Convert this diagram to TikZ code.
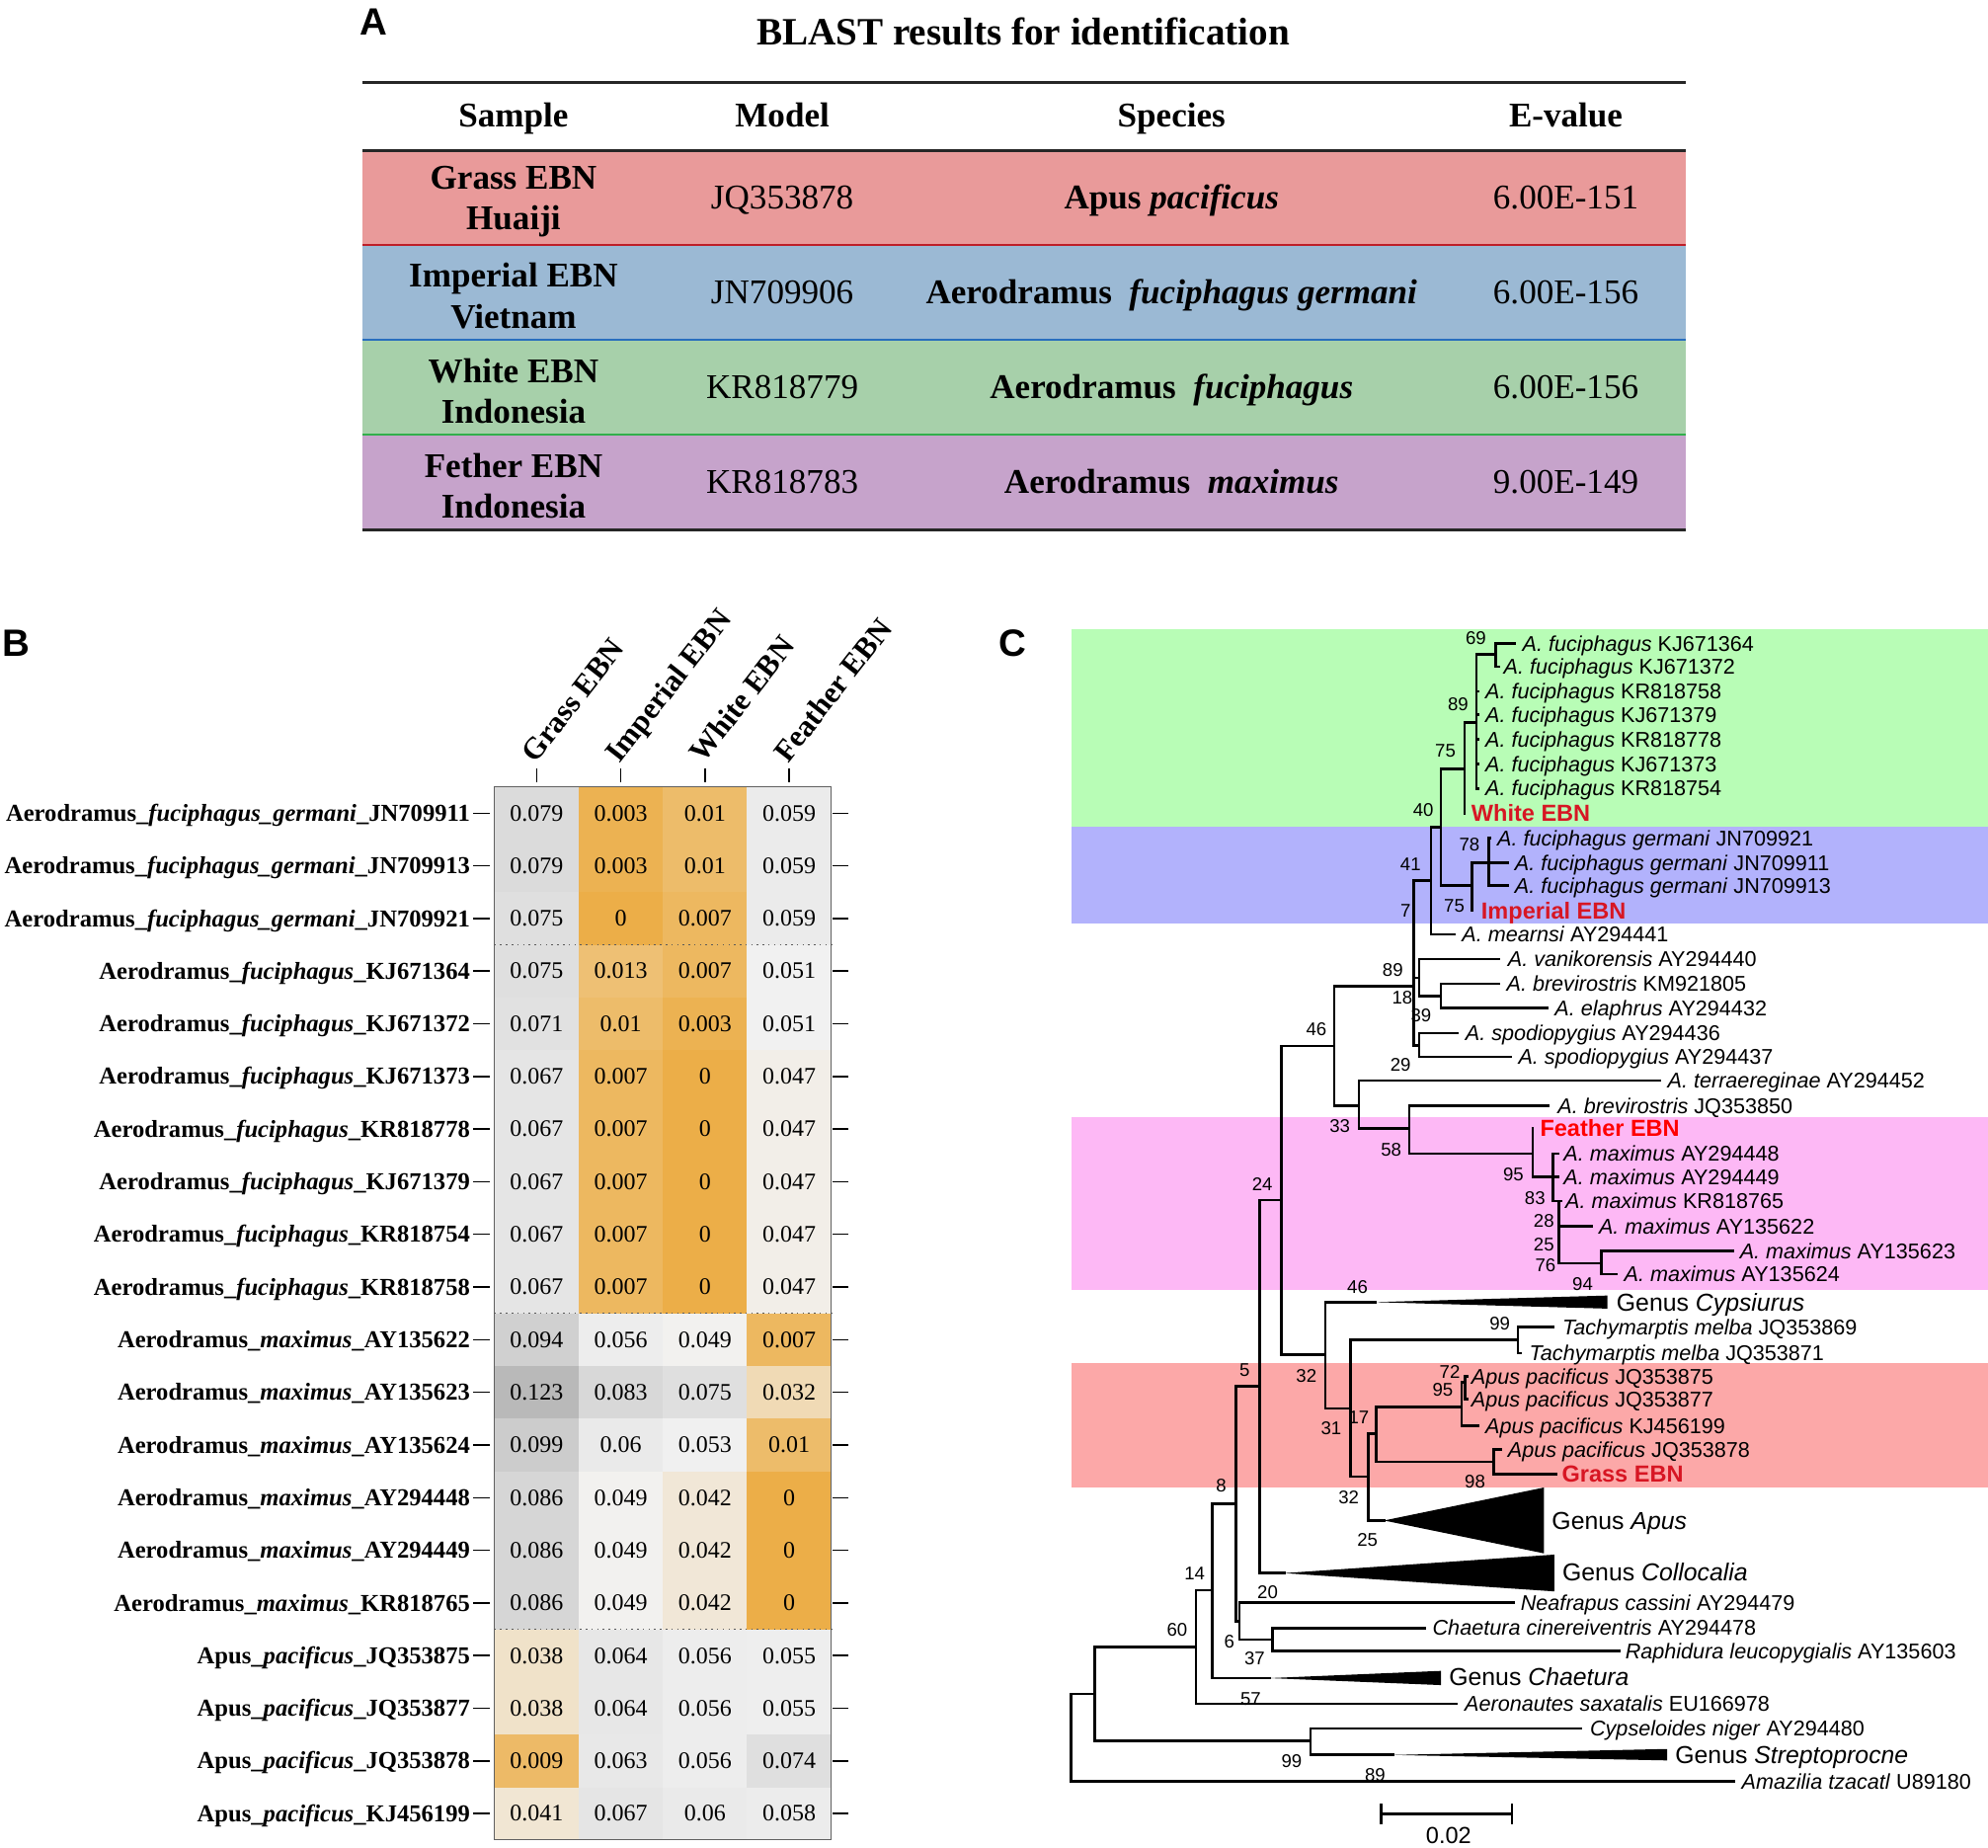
\documentclass[tikz,border=0pt]{standalone}
\usepackage{fontspec}
\setmainfont{Liberation Serif}
\setsansfont{Liberation Sans}
\usetikzlibrary{calc}
\definecolor{rowA}{RGB}{233,154,154}
\definecolor{rowB}{RGB}{155,185,212}
\definecolor{rowC}{RGB}{167,208,170}
\definecolor{rowD}{RGB}{198,163,203}
\definecolor{lineA}{RGB}{190,30,40}
\definecolor{lineB}{RGB}{40,110,190}
\definecolor{lineC}{RGB}{50,175,75}
\definecolor{hmor}{RGB}{236,174,72}
\definecolor{hmwh}{RGB}{242,242,242}
\definecolor{hmgr}{RGB}{185,185,185}
\definecolor{bandG}{RGB}{184,253,182}
\definecolor{bandB}{RGB}{178,178,252}
\definecolor{bandP}{RGB}{253,184,245}
\definecolor{bandR}{RGB}{252,168,168}
\definecolor{ebnred}{RGB}{215,22,35}
\definecolor{ebnbright}{RGB}{255,0,0}
\newcommand\hcell[3]{%
  \pgfmathsetmacro\hcx{390+(#1-1)*66.4}%
  \pgfmathsetmacro\hcy{620.5+(#2-1)*41.525}%
  \pgfmathtruncatemacro\hcor{(#3<0.05)?1:0}%
  \ifnum\hcor=1
    \pgfmathtruncatemacro\hcp{round(100*(1-#3/0.05))}%
    \colorlet{hcc}{hmor!\hcp!hmwh}%
  \else
    \pgfmathtruncatemacro\hcp{round(min(100,100*(#3-0.05)/0.073))}%
    \colorlet{hcc}{hmgr!\hcp!hmwh}%
  \fi
  \fill[hcc] (\hcx,\hcy) rectangle ++(66.4,41.525);
  \node[cellv] (hc-#2-#1) at ({\hcx+33.2},{\hcy+20.76}) {#3};
}
\begin{document}
\begin{tikzpicture}[x=0.6pt,y=-0.6pt,
  panlbl/.style={font=\sffamily\bfseries\fontsize{18}{22}\selectfont, inner sep=0pt},
  tbb/.style={font=\bfseries\fontsize{16.4}{19.5}\selectfont, align=center, inner sep=0pt},
  tbr/.style={font=\fontsize{16.4}{19.5}\selectfont, align=center, inner sep=0pt},
  oneline/.style={text height=10.8pt, text depth=0pt},
  rowlbl/.style={font=\bfseries\fontsize{11.5}{13}\selectfont, anchor=east, inner sep=0pt, text height=7.6pt, text depth=0pt},
  cellv/.style={font=\fontsize{11.2}{13}\selectfont, inner sep=0pt},
  collbl/.style={rotate=52, anchor=base west, inner sep=0pt, font=\bfseries\fontsize{14.4}{17}\selectfont},
  tickln/.style={line width=0.7pt, black},
  branch/.style={line width=1.25pt, black, line cap=rect},
  tip/.style={font=\sffamily\fontsize{10.1}{12}\selectfont, inner sep=0pt, anchor=west, text height=7.2pt, text depth=0pt},
  boot/.style={font=\sffamily\fontsize{8.7}{10}\selectfont, inner sep=0pt, text height=6.2pt, text depth=0pt},
  ebn/.style={font=\sffamily\bfseries\fontsize{11}{13}\selectfont, inner sep=0pt, anchor=west, text height=7.9pt, text depth=0pt, text=ebnred},
  genus/.style={font=\sffamily\fontsize{11.6}{14}\selectfont, inner sep=0pt, anchor=west, text height=8.3pt, text depth=0pt}]
\useasboundingbox (0,0) rectangle (1568,1457);
\fill[white] (0,0) rectangle (1568,1457);

%% ---------------- Panel A ----------------
\node[panlbl] (lblA) at (295,17) {A};
\node[font=\bfseries\fontsize{18.3}{22}\selectfont, inner sep=0pt] (titleA) at (807,25) {BLAST results for identification};
\fill[rowA] (286,118.6) rectangle (1330,193.3);
\fill[rowB] (286,193.3) rectangle (1330,268);
\fill[rowC] (286,268) rectangle (1330,342.8);
\fill[rowD] (286,342.8) rectangle (1330,417.8);
\draw[line width=1.4pt, black!85] (286,64.7) -- (1330,64.7);
\draw[line width=1.4pt, black!85] (286,118.6) -- (1330,118.6);
\draw[line width=1.1pt, lineA] (286,193.3) -- (1330,193.3);
\draw[line width=1.1pt, lineB] (286,268) -- (1330,268);
\draw[line width=1.1pt, lineC] (286,342.8) -- (1330,342.8);
\draw[line width=1.4pt, black!85] (286,417.8) -- (1330,417.8);
\node[tbb, oneline] (hS) at (405,91) {Sample};
\node[tbb, oneline] (hM) at (617,91) {Model};
\node[tbb, oneline] (hSp) at (924,91) {Species};
\node[tbb, oneline] (hE) at (1235,91) {E-value};
\node[tbb] (s1) at (405,159) {Grass EBN\\Huaiji};
\node[tbr, oneline] (m1) at (617,156) {JQ353878};
\node[tbb, oneline] (p1) at (924,156) {Apus \textit{pacificus}};
\node[tbr, oneline] (e1) at (1235,156) {6.00E-151};
\node[tbb] (s2) at (405,233.6) {Imperial EBN\\Vietnam};
\node[tbr, oneline] (m2) at (617,230.6) {JN709906};
\node[tbb, oneline] (p2) at (924,230.6) {Aerodramus\ \ \textit{fuciphagus germani}};
\node[tbr, oneline] (e2) at (1235,230.6) {6.00E-156};
\node[tbb] (s3) at (405,308.4) {White EBN\\Indonesia};
\node[tbr, oneline] (m3) at (617,305.4) {KR818779};
\node[tbb, oneline] (p3) at (924,305.4) {Aerodramus\ \ \textit{fuciphagus}};
\node[tbr, oneline] (e3) at (1235,305.4) {6.00E-156};
\node[tbb] (s4) at (405,383.3) {Fether EBN\\Indonesia};
\node[tbr, oneline] (m4) at (617,380.3) {KR818783};
\node[tbb, oneline] (p4) at (924,380.3) {Aerodramus\ \ \textit{maximus}};
\node[tbr, oneline] (e4) at (1235,380.3) {9.00E-149};

%% ---------------- Panel B ----------------
\node[panlbl] (lblB) at (12.5,507) {B};
\foreach \i/\t in {1/Grass EBN,2/Imperial EBN,3/White EBN,4/Feather EBN}{
  \pgfmathsetmacro\cx{390+(\i-0.5)*66.4}
  \node[collbl] (cl-\i) at ({\cx-1},603) {\t};
  \draw[tickln] (\cx,606) -- (\cx,617);
}
\foreach \r/\lab/\va/\vb/\vc/\vd in {
 1/{Aerodramus\_\textit{fuciphagus\_germani}\_JN709911}/0.079/0.003/0.01/0.059,
 2/{Aerodramus\_\textit{fuciphagus\_germani}\_JN709913}/0.079/0.003/0.01/0.059,
 3/{Aerodramus\_\textit{fuciphagus\_germani}\_JN709921}/0.075/0/0.007/0.059,
 4/{Aerodramus\_\textit{fuciphagus}\_KJ671364}/0.075/0.013/0.007/0.051,
 5/{Aerodramus\_\textit{fuciphagus}\_KJ671372}/0.071/0.01/0.003/0.051,
 6/{Aerodramus\_\textit{fuciphagus}\_KJ671373}/0.067/0.007/0/0.047,
 7/{Aerodramus\_\textit{fuciphagus}\_KR818778}/0.067/0.007/0/0.047,
 8/{Aerodramus\_\textit{fuciphagus}\_KJ671379}/0.067/0.007/0/0.047,
 9/{Aerodramus\_\textit{fuciphagus}\_KR818754}/0.067/0.007/0/0.047,
 10/{Aerodramus\_\textit{fuciphagus}\_KR818758}/0.067/0.007/0/0.047,
 11/{Aerodramus\_\textit{maximus}\_AY135622}/0.094/0.056/0.049/0.007,
 12/{Aerodramus\_\textit{maximus}\_AY135623}/0.123/0.083/0.075/0.032,
 13/{Aerodramus\_\textit{maximus}\_AY135624}/0.099/0.06/0.053/0.01,
 14/{Aerodramus\_\textit{maximus}\_AY294448}/0.086/0.049/0.042/0,
 15/{Aerodramus\_\textit{maximus}\_AY294449}/0.086/0.049/0.042/0,
 16/{Aerodramus\_\textit{maximus}\_KR818765}/0.086/0.049/0.042/0,
 17/{Apus\_\textit{pacificus}\_JQ353875}/0.038/0.064/0.056/0.055,
 18/{Apus\_\textit{pacificus}\_JQ353877}/0.038/0.064/0.056/0.055,
 19/{Apus\_\textit{pacificus}\_JQ353878}/0.009/0.063/0.056/0.074,
 20/{Apus\_\textit{pacificus}\_KJ456199}/0.041/0.067/0.06/0.058}{
  \pgfmathsetmacro\yc{620.5+(\r-0.5)*41.525}
  \node[rowlbl] (rl-\r) at (371,\yc) {\lab};
  \draw[tickln] (373,\yc) -- (386,\yc);
  \draw[tickln] (657,\yc) -- (669,\yc);
  \hcell{1}{\r}{\va}
  \hcell{2}{\r}{\vb}
  \hcell{3}{\r}{\vc}
  \hcell{4}{\r}{\vd}
}
\foreach \k in {3,10,16}{
  \draw[dotted, black!65, line width=0.7pt] (390,{620.5+\k*41.525}) -- (655.6,{620.5+\k*41.525});
}
\draw[black!62, line width=0.6pt] (390,620.5) rectangle (655.6,1451);

%% ---------------- Panel C ----------------
\node[panlbl] (lblC) at (798.5,507) {C};
\fill[bandG] (845,496) rectangle (1568,652);
\fill[bandB] (845,652) rectangle (1568,728.3);
\fill[bandP] (845,881) rectangle (1568,1017);
\fill[bandR] (845,1075) rectangle (1568,1173);

\coordinate (n69) at (1179.7,516.1);
\coordinate (l364) at (1194.5,507.6);
\coordinate (l372) at (1182.5,525.8);
\coordinate (n89) at (1164.4,569.9);
\coordinate (l758) at (1165.5,545.2);
\coordinate (l379) at (1165.5,563.4);
\coordinate (l778) at (1165.5,582.9);
\coordinate (l373) at (1165.5,602.4);
\coordinate (l754) at (1165.5,621.8);
\coordinate (n75a) at (1155.1,606.3);
\coordinate (lwhite) at (1155.1,641.3);
\coordinate (n40) at (1136.5,652.2);
\coordinate (nimp) at (1161.1,698.5);
\coordinate (n78) at (1174,680.3);
\coordinate (l921) at (1175.5,660.8);
\coordinate (l911) at (1189,680.3);
\coordinate (l913) at (1189,698.5);
\coordinate (limp) at (1161.1,718);
\coordinate (n41) at (1128.7,694.6);
\coordinate (lmea) at (1147.2,736.9);
\coordinate (n7) at (1115.2,777.6);
\coordinate (n18) at (1119.4,771.2);
\coordinate (lvan) at (1182,756.4);
\coordinate (n39) at (1136.5,785.5);
\coordinate (lkm) at (1182,775.8);
\coordinate (lela) at (1220,795);
\coordinate (n29) at (1119.4,824.4);
\coordinate (l436) at (1149.5,814.8);
\coordinate (l437) at (1191.2,833.5);
\coordinate (n46) at (1052.2,824.9);
\coordinate (n33) at (1071.7,871.9);
\coordinate (lter) at (1309.4,852.2);
\coordinate (n58) at (1111.5,889.8);
\coordinate (l850) at (1221.4,871.9);
\coordinate (n95) at (1208.9,909.8);
\coordinate (lfea) at (1208.9,889.8);
\coordinate (n83) at (1225,928.3);
\coordinate (l448) at (1229,909.8);
\coordinate (l449) at (1229,928.3);
\coordinate (n28) at (1229.7,947.2);
\coordinate (l765) at (1231.5,947.2);
\coordinate (l622) at (1255,967.2);
\coordinate (n76) at (1263.1,996.3);
\coordinate (l623) at (1366.4,986.7);
\coordinate (l624) at (1274.7,1004.9);
\coordinate (n24) at (1010.5,946.5);
\coordinate (n32a) at (1045.2,1068.4);
\coordinate (tcyp) at (1084.6,1026.9);
\coordinate (n31) at (1065.2,1110.8);
\coordinate (ntach) at (1197.3,1056.7);
\coordinate (l869) at (1225,1046.4);
\coordinate (l871) at (1199.5,1067.1);
\coordinate (n17) at (1079.1,1164.5);
\coordinate (n32b) at (1085.6,1130.8);
\coordinate (na95) at (1152.8,1109.5);
\coordinate (n72) at (1155.6,1090);
\coordinate (l875) at (1157,1085.3);
\coordinate (l877) at (1157,1103.5);
\coordinate (l199) at (1165.8,1124.3);
\coordinate (n98) at (1178.3,1152.8);
\coordinate (l878) at (1183.4,1143.2);
\coordinate (lgra) at (1227,1162.5);
\coordinate (tapu) at (1091.6,1199.1);
\coordinate (nx) at (993.3,1093.1);
\coordinate (tcol) at (1012.8,1240.6);
\coordinate (n8) at (974.8,1186.1);
\coordinate (n20) at (977.6,1278.7);
\coordinate (lnea) at (1193.6,1263.9);
\coordinate (n37) at (1003.5,1293);
\coordinate (lcin) at (1124,1283.9);
\coordinate (lrap) at (1277,1302.1);
\coordinate (n14) at (956.2,1254);
\coordinate (tcha) at (1001.2,1323.4);
\coordinate (n60) at (943.3,1298.7);
\coordinate (laer) at (1148.6,1343.7);
\coordinate (nr1) at (863.5,1335.9);
\coordinate (n99) at (1033.6,1373);
\coordinate (lcyp) at (1246.9,1363.1);
\coordinate (tstr) at (1098.5,1384);
\coordinate (root) at (845,1370);
\coordinate (lama) at (1367.4,1404.7);

\foreach \p/\c in {n69/l364,n69/l372,n89/n69,n89/l758,n89/l379,n89/l778,n89/l373,n89/l754,
  n75a/n89,n75a/lwhite,n40/n75a,n40/nimp,nimp/n78,nimp/limp,n78/l921,n78/l911,n78/l913,
  n41/n40,n41/lmea,n7/n41,n7/n18,n7/n29,n18/lvan,n18/n39,n39/lkm,n39/lela,n29/l436,n29/l437,
  n46/n7,n46/n33,n33/lter,n33/n58,n58/l850,n58/n95,n95/lfea,n95/n83,n83/l448,n83/l449,n83/n28,
  n28/l765,n28/l622,n28/n76,n76/l623,n76/l624,n24/n46,n24/n32a,n32a/tcyp,n32a/n31,n31/ntach,
  n31/n17,ntach/l869,ntach/l871,n17/n32b,n17/tapu,n32b/na95,n32b/n98,na95/n72,na95/l199,
  n72/l875,n72/l877,n98/l878,n98/lgra,nx/n24,nx/tcol,n8/nx,n8/n20,n20/lnea,n20/n37,n37/lcin,
  n37/lrap,n14/n8,n14/tcha,n60/n14,n60/laer,nr1/n60,nr1/n99,n99/lcyp,n99/tstr,root/nr1,root/lama}{
  \draw[branch] (\p) |- (\c);
}
\fill (tcyp) -- (1267.7,1021.7) -- (1267.7,1032) -- cycle;
\fill (tapu) -- (1217.7,1173.1) -- (1217.7,1225) -- cycle;
\fill (tcol) -- (1226,1226) -- (1226,1255) -- cycle;
\fill (tcha) -- (1136.5,1317.7) -- (1136.5,1328.9) -- cycle;
\fill (tstr) -- (1315,1379.3) -- (1315,1388.3) -- cycle;

% tip labels
\node[tip] (t364) at (1200.5,507.6) {\textit{A. fuciphagus} KJ671364};
\node[tip] (t372) at (1185.7,525.8) {\textit{A. fuciphagus} KJ671372};
\node[tip] (t758) at (1171.3,545.2) {\textit{A. fuciphagus} KR818758};
\node[tip] (t379) at (1171.3,563.4) {\textit{A. fuciphagus} KJ671379};
\node[tip] (t778) at (1171.3,582.9) {\textit{A. fuciphagus} KR818778};
\node[tip] (t373) at (1171.3,602.4) {\textit{A. fuciphagus} KJ671373};
\node[tip] (t754) at (1171.3,621.8) {\textit{A. fuciphagus} KR818754};
\node[ebn] (twhite) at (1160.2,641.3) {White EBN};
\node[tip] (t921) at (1180.6,660.8) {\textit{A. fuciphagus germani} JN709921};
\node[tip] (t911) at (1194.5,680.3) {\textit{A. fuciphagus germani} JN709911};
\node[tip] (t913) at (1194.5,698.5) {\textit{A. fuciphagus germani} JN709913};
\node[ebn] (timp) at (1168,718) {Imperial EBN};
\node[tip] (tmea) at (1152.8,736.9) {\textit{A. mearnsi} AY294441};
\node[tip] (tvan) at (1189,756.4) {\textit{A. vanikorensis} AY294440};
\node[tip] (tkm) at (1188,775.8) {\textit{A. brevirostris} KM921805};
\node[tip] (tela) at (1226,795) {\textit{A. elaphrus} AY294432};
\node[tip] (t436) at (1155.5,814.8) {\textit{A. spodiopygius} AY294436};
\node[tip] (t437) at (1197.3,833.5) {\textit{A. spodiopygius} AY294437};
\node[tip] (tter) at (1315,852.2) {\textit{A. terraereginae} AY294452};
\node[tip] (t850) at (1228.3,871.9) {\textit{A. brevirostris} JQ353850};
\node[ebn, text=ebnbright] (tfea) at (1214.4,889.8) {Feather EBN};
\node[tip] (t448) at (1233,909.8) {\textit{A. maximus} AY294448};
\node[tip] (t449) at (1233,928.3) {\textit{A. maximus} AY294449};
\node[tip] (t765) at (1234.4,947.2) {\textit{A. maximus} KR818765};
\node[tip] (t622) at (1260.8,967.2) {\textit{A. maximus} AY135622};
\node[tip] (t623) at (1372,986.7) {\textit{A. maximus} AY135623};
\node[tip] (t624) at (1280.7,1004.9) {\textit{A. maximus} AY135624};
\node[genus] (gcyp) at (1274.7,1026.9) {Genus \textit{Cypsiurus}};
\node[tip] (t869) at (1232,1046.4) {\textit{Tachymarptis melba} JQ353869};
\node[tip] (t871) at (1206,1067.1) {\textit{Tachymarptis melba} JQ353871};
\node[tip] (t875) at (1160.2,1085.3) {\textit{Apus pacificus} JQ353875};
\node[tip] (t877) at (1160.2,1103.5) {\textit{Apus pacificus} JQ353877};
\node[tip] (t199) at (1171.3,1124.3) {\textit{Apus pacificus} KJ456199};
\node[tip] (t878) at (1189,1143.2) {\textit{Apus pacificus} JQ353878};
\node[ebn] (tgra) at (1231.6,1162.5) {Grass EBN};
\node[genus] (gapu) at (1223.7,1199) {Genus \textit{Apus}};
\node[genus] (gcol) at (1232,1240) {Genus \textit{Collocalia}};
\node[tip] (tnea) at (1199.1,1263.9) {\textit{Neafrapus cassini} AY294479};
\node[tip] (tcin) at (1129.6,1283.9) {\textit{Chaetura cinereiventris} AY294478};
\node[tip] (trap) at (1281.6,1302.1) {\textit{Raphidura leucopygialis} AY135603};
\node[genus] (gcha) at (1142.6,1322) {Genus \textit{Chaetura}};
\node[tip] (taer) at (1155,1343.7) {\textit{Aeronautes saxatalis} EU166978};
\node[tip] (tcyps) at (1253.8,1363.1) {\textit{Cypseloides niger} AY294480};
\node[genus] (gstr) at (1321,1384) {Genus \textit{Streptoprocne}};
\node[tip] (tama) at (1373.4,1404.7) {\textit{Amazilia tzacatl} U89180};

% bootstrap values
\foreach \x/\y/\v [count=\n] in {1164/503/69,1150/555.6/89,1140/592/75,1122.6/638.7/40,1159/666/78,
  1112.5/681.6/41,1147/714/75,1108.7/718/7,1098.5/764.7/89,1106/786.8/18,1120.8/801/39,
  1104.6/839.2/29,1038.3/811.4/46,1056.8/887.5/33,1097.2/906.2/58,1193.6/925.7/95,
  1210.7/944.6/83,1217.7/962.8/28,1217.7/981/25,1219/997.6/76,1248.3/1012.2/94,
  995.6/933.5/24,1070.7/1015.2/46,1182.9/1043.8/99,1030.4/1084.8/32,1143.5/1082.2/72,
  1138/1096.2/95,1071.7/1117.8/17,1049.9/1126.3/31,1163.4/1168.4/98,1063.8/1180.9/32,
  1078.6/1214.6/25,981.7/1080.6/5,963.2/1171.5/8,942.3/1240.6/14,999.8/1255.4/20,
  969.7/1294.3/6,989.6/1308.1/37,928.4/1285.2/60,986.4/1339.8/57,1018.8/1389.1/99,
  1084.6/1400/89}{
  \node[boot] (bs-\n) at (\x,\y) {\v};
}

% scale bar
\coordinate (sbA) at (1089.3,1430.7);
\coordinate (sbB) at (1192.6,1430.7);
\draw[branch] (sbA) -- (sbB);
\draw[branch] ($(sbA)+(0,-7)$) -- ($(sbA)+(0,7)$);
\draw[branch] ($(sbB)+(0,-7)$) -- ($(sbB)+(0,7)$);
\node[font=\sffamily\fontsize{11}{13}\selectfont, inner sep=0pt] (sblbl) at (1142.6,1447.5) {0.02};
\end{tikzpicture}
\end{document}
